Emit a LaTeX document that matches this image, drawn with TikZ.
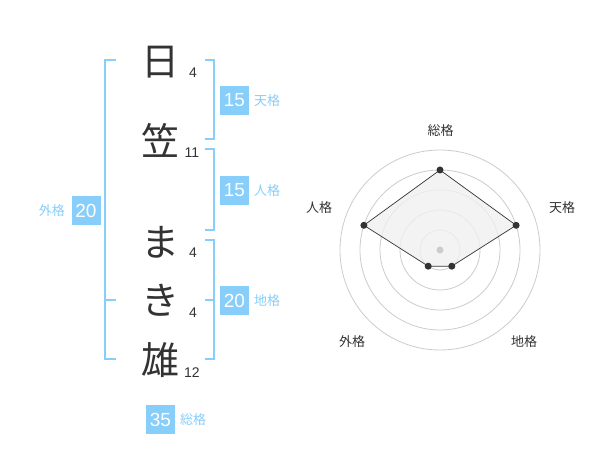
\documentclass[tikz,border=0pt]{standalone}
\usepackage{fontspec}
\setmainfont{Liberation Sans}
\newfontfamily\jp{Noto Sans CJK JP}
\definecolor{sky}{HTML}{87CEFA}
\definecolor{ink}{HTML}{333333}
\definecolor{ring}{HTML}{CCCCCC}
\definecolor{fillg}{HTML}{F0F0F0}
\begin{document}
\begin{tikzpicture}[x=1pt,y=-1pt,
  kanji/.style={font=\jp\fontsize{38}{38}\selectfont, text=ink, inner sep=0pt},
  strokes/.style={font=\fontsize{14}{14}\selectfont, text=ink, inner sep=0pt},
  numbox/.style={fill=sky, text=white, minimum width=29pt, minimum height=29pt, inner sep=0pt, font=\fontsize{19}{19}\selectfont},
  kaku/.style={font=\jp\fontsize{13}{13}\selectfont, text=sky, inner sep=0pt},
  bracket/.style={draw=sky, line width=2pt},
  radlabel/.style={font=\jp\fontsize{13}{13}\selectfont, text=ink, inner sep=0pt},
  dot/.style={circle, fill=ink, inner sep=0pt, minimum size=7pt},
  ringline/.style={draw=ring, line width=0.8pt}]
\useasboundingbox[fill=white] (0,0) rectangle (600,470);

% characters
\node[kanji] (c1) at (160,62) {日};
\node[kanji] (c2) at (160,140) {笠};
\node[kanji] (c3) at (160,242) {ま};
\node[kanji] (c4) at (160,300) {き};
\node[kanji] (c5) at (160,360) {雄};
\node[strokes] (s1) at (193,73) {4};
\node[strokes] (s2) at (192,153) {11};
\node[strokes] (s3) at (193,253) {4};
\node[strokes] (s4) at (193,313) {4};
\node[strokes] (s5) at (192,373) {12};

% brackets
\draw[bracket] (116,60) -- (105,60) -- (105,359) -- (116,359);
\draw[bracket] (105,300) -- (116,300);
\draw[bracket] (205,60) -- (214,60) -- (214,139) -- (205,139);
\draw[bracket] (205,149) -- (214,149) -- (214,230) -- (205,230);
\draw[bracket] (205,240) -- (214,240) -- (214,359) -- (205,359);
\draw[bracket] (214,300) -- (205,300);

% boxes
\node[numbox] (b1) at (234.5,100.5) {15};
\node[kaku, anchor=west] (l1) at (254,101) {天格};
\node[numbox] (b2) at (234.5,190.5) {15};
\node[kaku, anchor=west] (l2) at (254,191) {人格};
\node[numbox] (b3) at (234.5,300.5) {20};
\node[kaku, anchor=west] (l3) at (254,301) {地格};
\node[numbox] (b4) at (86,210.5) {20};
\node[kaku, anchor=east] (l4) at (65,211) {外格};
\node[numbox] (b5) at (160.5,419.5) {35};
\node[kaku, anchor=west] (l5) at (180,420) {総格};

% radar
\coordinate (rc) at (440,250);
\foreach \r in {20,40,60,80,100} \draw[ringline] (rc) circle[radius=\r];
\coordinate (pS) at (440,170);
\coordinate (pT) at (516.1,225.3);
\coordinate (pC) at (451.8,266.2);
\coordinate (pG) at (428.2,266.2);
\coordinate (pJ) at (363.9,225.3);
\draw[draw=ink, fill=fillg, fill opacity=0.8, line width=0.7pt] (pS) -- (pT) -- (pC) -- (pG) -- (pJ) -- cycle;
\fill[ring] (rc) circle[radius=3.5];
\foreach \p in {pS,pT,pC,pG,pJ} \node[dot] at (\p) {};
\node[radlabel] (r1) at (440.5,131) {総格};
\node[radlabel] (r2) at (562,208) {天格};
\node[radlabel] (r3) at (319,208) {人格};
\node[radlabel] (r4) at (352,342) {外格};
\node[radlabel] (r5) at (524,342) {地格};
\end{tikzpicture}
\end{document}
